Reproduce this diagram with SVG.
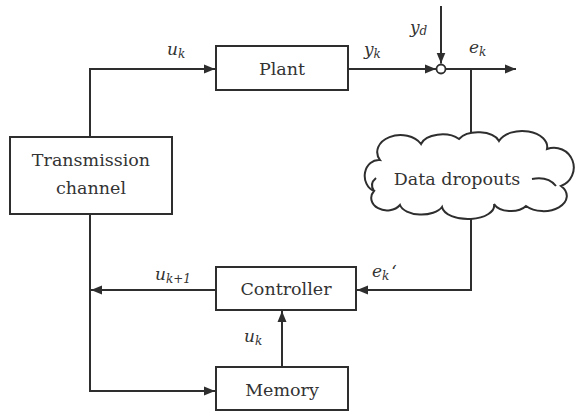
<svg xmlns="http://www.w3.org/2000/svg" width="576" height="411" viewBox="0 0 576 411">
  <style>
    .box { fill: #ffffff; stroke: #2e2e2e; stroke-width: 2; }
    .wire { fill: none; stroke: #2e2e2e; stroke-width: 2; }
    .lbl { font-family: 'DejaVu Serif', 'Noto Serif', 'Liberation Serif', serif; font-size: 17.5px; fill: #333333; text-anchor: middle; }
    .m { font-family: 'DejaVu Serif', 'Noto Serif', 'Liberation Serif', serif; font-style: italic; font-size: 17px; fill: #333333; }
    .s { font-size: 12px; }
  </style>
  <defs>
    <marker id="arrow" markerUnits="userSpaceOnUse" markerWidth="12" markerHeight="10" refX="11" refY="5" orient="auto">
      <path d="M0,0.5 L11,5 L0,9.5 Z" fill="#2e2e2e"/>
    </marker>
  </defs>

  <!-- signal paths -->
  <g id="connectors">
    <path class="wire" d="M90 137 V69 H215" marker-end="url(#arrow)"/>
    <path class="wire" d="M348 69 H436" marker-end="url(#arrow)"/>
    <path class="wire" d="M441 6 V63.5" marker-end="url(#arrow)"/>
    <path class="wire" d="M445.5 69 H516" marker-end="url(#arrow)"/>
    <path class="wire" d="M471 69 V139"/>
    <path class="wire" d="M471 217 V290 H357" marker-end="url(#arrow)"/>
    <path class="wire" d="M216 290 H91" marker-end="url(#arrow)"/>
    <path class="wire" d="M90 214 V391 H215" marker-end="url(#arrow)"/>
    <path class="wire" d="M282 367 V311" marker-end="url(#arrow)"/>
  </g>

  <g id="plant">
    <rect class="box" x="216" y="46" width="132" height="44"/>
    <text class="lbl" x="282" y="75">Plant</text>
  </g>

  <g id="summing-junction">
    <circle cx="441" cy="69" r="4.5" fill="#ffffff" stroke="#2e2e2e" stroke-width="1.8"/>
  </g>

  <g id="transmission-channel">
    <rect class="box" x="10" y="137" width="162" height="77"/>
    <text class="lbl" x="91" y="166">Transmission</text>
    <text class="lbl" x="91" y="194">channel</text>
  </g>

  <g id="data-dropouts">
    <path class="box" d="M380 160
      A22 16 0 0 1 421 144
      A22 13 0 0 1 459 139
      A22 13 0 0 1 499 141
      A25 16 0 0 1 547 149
      A17 17 0 0 1 561 186
      A20 13 0 0 1 526 206
      A18 11 0 0 1 494 204
      A25 13 0 0 1 442 207
      A22 12 0 0 1 400 205
      A14 11 0 0 1 374 191
      A14 16 0 0 1 380 160 Z"/>
    <path class="wire" d="M532 179 Q548 176 556 186"/>
    <path class="wire" d="M374 191 Q369 184 376 178"/>
    <text class="lbl" x="457" y="185">Data dropouts</text>
  </g>

  <g id="controller">
    <rect class="box" x="216" y="267" width="140" height="43"/>
    <text class="lbl" x="286" y="295">Controller</text>
  </g>

  <g id="memory">
    <rect class="box" x="216" y="367" width="132" height="43"/>
    <text class="lbl" x="282" y="396">Memory</text>
  </g>

  <!-- signal labels -->
  <g id="labels">
    <text class="m" x="167" y="55">u<tspan class="s" dy="3">k</tspan></text>
    <text class="m" x="364" y="55">y<tspan class="s" dy="3">k</tspan></text>
    <text class="m" x="410" y="33">y<tspan class="s" dy="2">d</tspan></text>
    <text class="m" x="469" y="53">e<tspan class="s" dy="3">k</tspan></text>
    <text class="m" x="155" y="280">u<tspan class="s" dy="3">k+1</tspan></text>
    <text class="m" x="372" y="277">e<tspan class="s" dy="3">k</tspan><tspan dx="2" dy="-3">‘</tspan></text>
    <text class="m" x="244" y="342">u<tspan class="s" dy="3">k</tspan></text>
  </g>
</svg>
